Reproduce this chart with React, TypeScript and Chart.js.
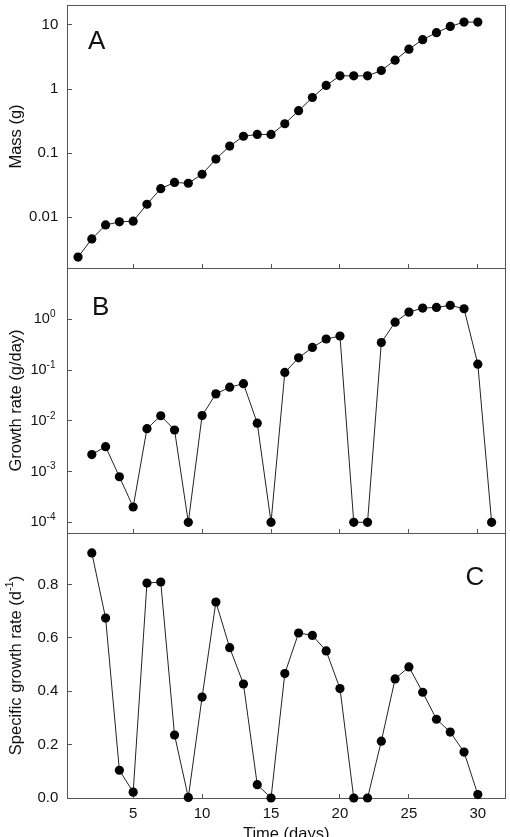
import React, { useEffect, useRef } from 'react';
import { Chart, registerables } from 'chart.js';

Chart.register(...registerables);

// ---------- data ----------
const DAYS_A = [1, 2, 3, 4, 5, 6, 7, 8, 9, 10, 11, 12, 13, 14, 15, 16, 17, 18, 19, 20, 21, 22, 23, 24, 25, 26, 27, 28, 29, 30];
const MASS = [0.0024, 0.0046, 0.0076, 0.0085, 0.0087, 0.016, 0.028, 0.035, 0.034, 0.047, 0.081, 0.129, 0.184, 0.196, 0.196, 0.288, 0.46, 0.74, 1.14, 1.61, 1.61, 1.61, 1.95, 2.83, 4.2, 5.9, 7.6, 9.5, 11.1, 11.1];

const DAYS_B = [2, 3, 4, 5, 6, 7, 8, 9, 10, 11, 12, 13, 14, 15, 16, 17, 18, 19, 20, 21, 22, 23, 24, 25, 26, 27, 28, 29, 30, 31];
const GROWTH = [0.00216, 0.0031, 0.00079, 0.0002, 0.007, 0.0126, 0.0066, 0.0001, 0.0127, 0.034, 0.046, 0.054, 0.009, 0.0001, 0.09, 0.175, 0.28, 0.41, 0.47, 0.0001, 0.0001, 0.35, 0.88, 1.39, 1.67, 1.72, 1.89, 1.62, 0.131, 0.0001];

const DAYS_C = [2, 3, 4, 5, 6, 7, 8, 9, 10, 11, 12, 13, 14, 15, 16, 17, 18, 19, 20, 21, 22, 23, 24, 25, 26, 27, 28, 29, 30];
const SGR = [0.918, 0.674, 0.104, 0.022, 0.805, 0.809, 0.236, 0.002, 0.378, 0.734, 0.563, 0.427, 0.05, 0, 0.466, 0.618, 0.609, 0.551, 0.41, 0, 0, 0.213, 0.446, 0.491, 0.396, 0.295, 0.247, 0.172, 0.013];

const X_TICKS = [5, 10, 15, 20, 25, 30];
const A_TICKS = [0.01, 0.1, 1, 10];
const A_TICK_LABELS = ['0.01', '0.1', '1', '10'];
const B_TICKS = [0.0001, 0.001, 0.01, 0.1, 1];
const B_TICK_EXPONENTS = ['-4', '-3', '-2', '-1', '0'];
const C_TICKS = [0, 0.2, 0.4, 0.6, 0.8];
const C_TICK_LABELS = ['0.0', '0.2', '0.4', '0.6', '0.8'];

// ---------- layout ----------
const W = 510;
const H = 837;
const FONT = "'Liberation Sans', Arial, Helvetica, sans-serif";
const AXIS_W = 67;
const RIGHT_PAD = 3;
const FRAME = '#555';
const TEXT = '#111';
const TICK_SIZE = 15;

type Part = { t: string; sup?: boolean };

function drawParts(ctx: CanvasRenderingContext2D, parts: Part[], size: number) {
  const supSize = Math.round(size * 0.68);
  let total = 0;
  const widths = parts.map((p) => {
    ctx.font = `${p.sup ? supSize : size}px ${FONT}`;
    const w = ctx.measureText(p.t).width;
    total += w;
    return w;
  });
  let x = -total / 2;
  parts.forEach((p, i) => {
    ctx.font = `${p.sup ? supSize : size}px ${FONT}`;
    ctx.textAlign = 'left';
    ctx.textBaseline = 'middle';
    ctx.fillText(p.t, x, p.sup ? -size * 0.38 : 0);
    x += widths[i];
  });
}

function makeChart(
  canvas: HTMLCanvasElement,
  cfg: {
    top: number;
    bottom: number;
    days: number[];
    values: number[];
    yType: 'linear' | 'logarithmic';
    yMin: number;
    yMax: number;
    yTicks: number[];
    yLabels?: string[];
    title: Part[];
    letter: string;
    letterPos: 'left' | 'right';
    letterDx: number;
    letterDy: number;
    showX: boolean;
    supTicks?: string[];
  }
) {
  const xHeight = cfg.showX ? H - cfg.bottom : 0;
  const padBottom = cfg.showX ? 0 : H - cfg.bottom;

  const plugin = {
    id: 'decor' + cfg.letter,
    beforeDatasetsDraw(chart: any) {
      const { ctx, chartArea: a } = chart;
      ctx.save();
      ctx.strokeStyle = FRAME;
      ctx.lineWidth = 1;
      ctx.strokeRect(Math.round(a.left) + 0.5, Math.round(a.top) + 0.5, Math.round(a.right - a.left), Math.round(a.bottom - a.top));
      ctx.restore();
    },
    afterDraw(chart: any) {
      const { ctx, chartArea: a } = chart;
      ctx.save();
      ctx.fillStyle = TEXT;
      // y-axis title
      ctx.save();
      ctx.translate(16, (a.top + a.bottom) / 2);
      ctx.rotate(-Math.PI / 2);
      drawParts(ctx, cfg.title, 16.5);
      ctx.restore();
      // panel letter
      ctx.font = `26px ${FONT}`;
      ctx.textBaseline = 'alphabetic';
      if (cfg.letterPos === 'left') {
        ctx.textAlign = 'left';
        ctx.fillText(cfg.letter, a.left + cfg.letterDx, a.top + cfg.letterDy);
      } else {
        ctx.textAlign = 'right';
        ctx.fillText(cfg.letter, a.right - cfg.letterDx, a.top + cfg.letterDy);
      }
      // superscript tick labels
      if (cfg.supTicks) {
        const ys = chart.scales.y;
        cfg.yTicks.forEach((v, i) => {
          const y = ys.getPixelForValue(v);
          const exp = cfg.supTicks![i];
          ctx.font = `10px ${FONT}`;
          const ew = ctx.measureText(exp).width;
          const xr = a.left - 11.5;
          ctx.textAlign = 'right';
          ctx.textBaseline = 'middle';
          ctx.fillText(exp, xr, y - 5);
          ctx.font = `14.5px ${FONT}`;
          ctx.fillText('10', xr - ew, y);
        });
      }
      // x-axis title
      if (cfg.showX) {
        ctx.font = `16.5px ${FONT}`;
        ctx.textAlign = 'center';
        ctx.textBaseline = 'alphabetic';
        ctx.fillText('Time (days)', (a.left + a.right) / 2, a.bottom + 41);
      }
      ctx.restore();
    },
  };

  return new Chart(canvas, {
    type: 'line',
    data: {
      datasets: [
        {
          data: cfg.days.map((d, i) => ({ x: d, y: cfg.values[i] })),
          borderColor: '#222',
          borderWidth: 1,
          backgroundColor: '#000',
          pointBackgroundColor: '#000',
          pointBorderColor: '#000',
          pointBorderWidth: 0,
          pointRadius: 4.6,
          tension: 0,
          clip: false as any,
        },
      ],
    },
    options: {
      responsive: false,
      animation: false,
      events: [],
      layout: { padding: { left: 0, right: RIGHT_PAD, top: cfg.top, bottom: padBottom } },
      plugins: { legend: { display: false }, tooltip: { enabled: false }, title: { display: false } },
      scales: {
        x: {
          type: 'linear',
          min: 0.2,
          max: 32,
          afterBuildTicks: (s: any) => {
            s.ticks = X_TICKS.map((v) => ({ value: v }));
          },
          afterFit: (s: any) => {
            s.height = xHeight;
            s.paddingLeft = 0;
            s.paddingRight = 0;
            s.paddingTop = 0;
            s.paddingBottom = 0;
          },
          grid: { display: true, drawOnChartArea: false, drawTicks: true, tickLength: -4, color: FRAME, lineWidth: 1 },
          border: { display: false },
          ticks: {
            display: cfg.showX,
            autoSkip: false,
            maxRotation: 0,
            padding: 10.5,
            color: TEXT,
            font: { family: FONT, size: TICK_SIZE },
            callback: (v: any) => String(v),
          },
        },
        y: {
          type: cfg.yType,
          min: cfg.yMin,
          max: cfg.yMax,
          afterBuildTicks: (s: any) => {
            s.ticks = cfg.yTicks.map((v) => ({ value: v }));
          },
          afterFit: (s: any) => {
            s.width = AXIS_W;
            s.paddingLeft = 0;
            s.paddingRight = 0;
            s.paddingTop = 0;
            s.paddingBottom = 0;
          },
          grid: { display: true, drawOnChartArea: false, drawTicks: true, tickLength: -5, color: FRAME, lineWidth: 1 },
          border: { display: false },
          ticks: {
            display: !cfg.supTicks,
            autoSkip: false,
            padding: 13.7,
            color: TEXT,
            font: { family: FONT, size: TICK_SIZE },
            callback: (v: any) => {
              const i = cfg.yTicks.findIndex((t) => Math.abs(t - v) < t * 1e-6 + 1e-9);
              return i >= 0 && cfg.yLabels ? cfg.yLabels[i] : '';
            },
          },
        } as any,
      },
    },
    plugins: [plugin],
  });
}

export default function App() {
  const refA = useRef<HTMLCanvasElement>(null);
  const refB = useRef<HTMLCanvasElement>(null);
  const refC = useRef<HTMLCanvasElement>(null);

  useEffect(() => {
    const charts: Chart[] = [];
    charts.push(
      makeChart(refA.current!, {
        top: 5,
        bottom: 268,
        days: DAYS_A,
        values: MASS,
        yType: 'logarithmic',
        yMin: 0.00162,
        yMax: 20.5,
        yTicks: A_TICKS,
        yLabels: A_TICK_LABELS,
        title: [{ t: 'Mass (g)' }],
        letter: 'A',
        letterPos: 'left',
        letterDx: 21,
        letterDy: 44,
        showX: false,
      })
    );
    charts.push(
      makeChart(refB.current!, {
        top: 268,
        bottom: 533,
        days: DAYS_B,
        values: GROWTH,
        yType: 'logarithmic',
        yMin: 0.0000615,
        yMax: 10.3,
        yTicks: B_TICKS,
        title: [{ t: 'Growth rate (g/day)' }],
        letter: 'B',
        letterPos: 'left',
        letterDx: 25,
        letterDy: 47,
        showX: false,
        supTicks: B_TICK_EXPONENTS,
      })
    );
    charts.push(
      makeChart(refC.current!, {
        top: 533,
        bottom: 798,
        days: DAYS_C,
        values: SGR,
        yType: 'linear',
        yMin: 0,
        yMax: 0.9925,
        yTicks: C_TICKS,
        yLabels: C_TICK_LABELS,
        title: [{ t: 'Specific growth rate (d' }, { t: '-1', sup: true }, { t: ')' }],
        letter: 'C',
        letterPos: 'right',
        letterDx: 21,
        letterDy: 52,
        showX: true,
      })
    );
    return () => charts.forEach((c) => c.destroy());
  }, []);

  const cs: React.CSSProperties = { position: 'absolute', left: 0, top: 0, width: W, height: H, display: 'block' };
  return (
    <div style={{ position: 'absolute', left: 0, top: 0, width: W, height: H, background: '#fff', overflow: 'hidden' }}>
      <canvas ref={refA} width={W} height={H} style={cs} />
      <canvas ref={refB} width={W} height={H} style={cs} />
      <canvas ref={refC} width={W} height={H} style={cs} />
    </div>
  );
}
